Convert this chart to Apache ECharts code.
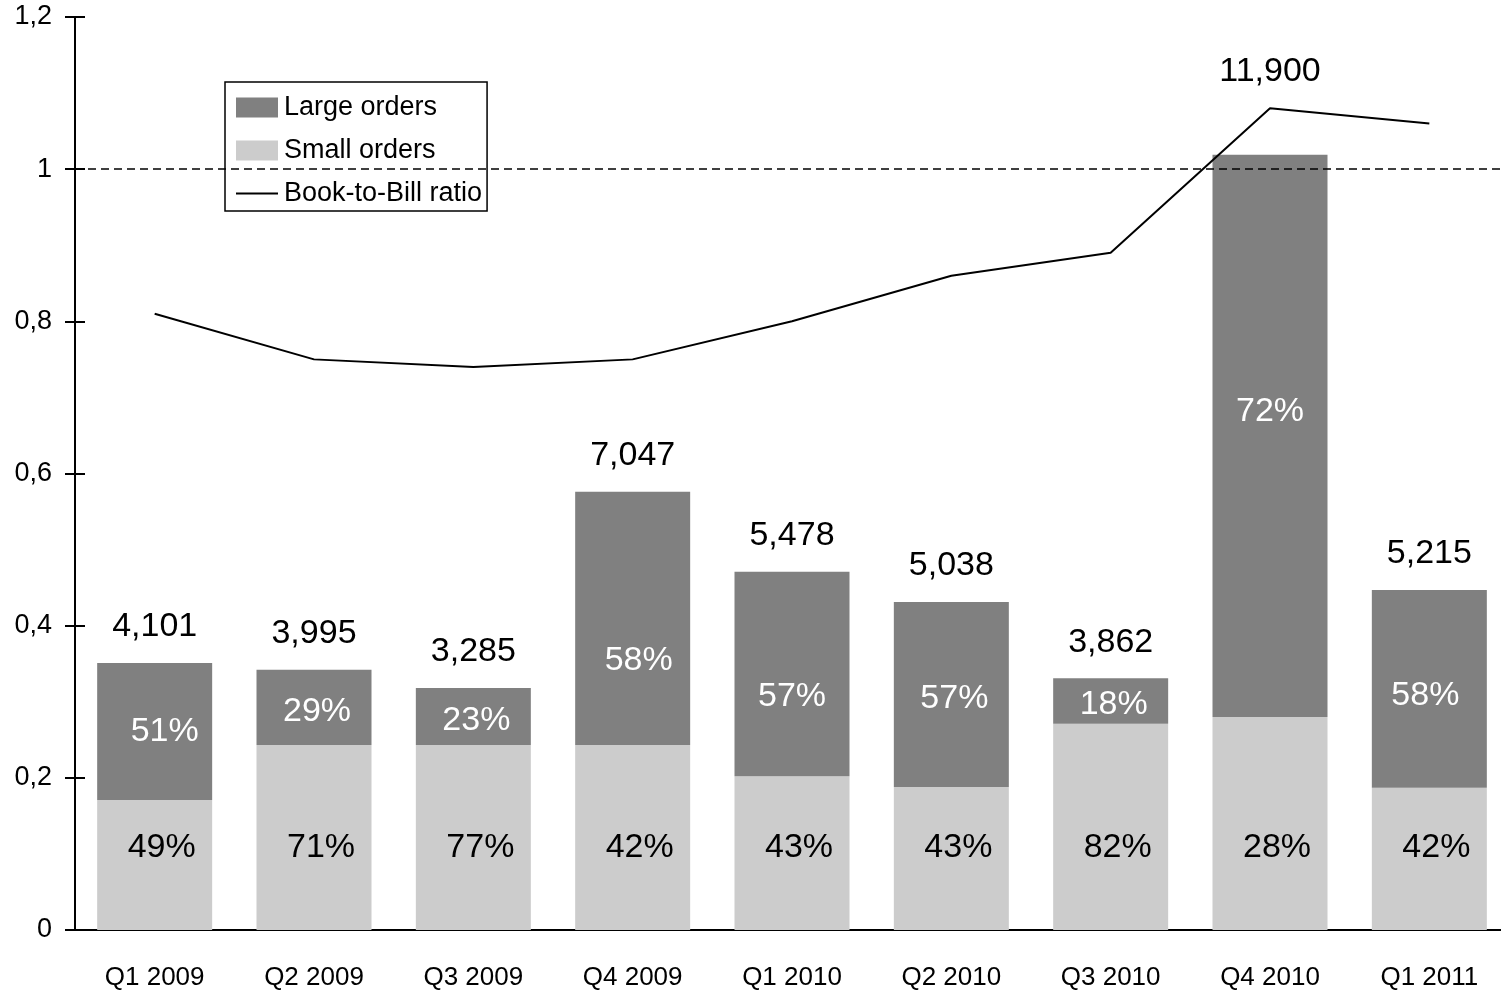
<!DOCTYPE html>
<html>
<head>
<meta charset="utf-8">
<script src="https://cdn.jsdelivr.net/npm/echarts@6/dist/echarts.min.js"></script>
<style>
  html, body { margin: 0; padding: 0; background: #fff; }
  #chart { width: 1501px; height: 992px; }
</style>
</head>
<body>
<div id="chart"></div>
<script>
const quarters = ["Q1 2009", "Q2 2009", "Q3 2009", "Q4 2009", "Q1 2010", "Q2 2010", "Q3 2010", "Q4 2010", "Q1 2011"];
const smallOrders = [0.171, 0.243, 0.243, 0.243, 0.202, 0.188, 0.271, 0.280, 0.187];
const largeOrders = [0.180, 0.099, 0.075, 0.333, 0.269, 0.243, 0.060, 0.739, 0.260];
const bookToBill = [0.81, 0.75, 0.74, 0.75, 0.80, 0.86, 0.89, 1.08, 1.06];
const totalOrders = ["4,101", "3,995", "3,285", "7,047", "5,478", "5,038", "3,862", "11,900", "5,215"];
const largePct = ["51%", "29%", "23%", "58%", "57%", "57%", "18%", "72%", "58%"];
const smallPct = ["49%", "71%", "77%", "42%", "43%", "43%", "82%", "28%", "42%"];

const font = "'Liberation Sans', Arial, sans-serif";
const chart = echarts.init(document.getElementById("chart"));

// a few labels in the original sit off-centre
const largeLabelShift = { 0: [10, 0], 3: [6, 42], 4: [0, 23], 7: [0, -24], 8: [-4, 7] };

const fmtTick = (v) => String(Math.round(v * 10) / 10).replace(".", ",");

const options = {
  animation: false,
  textStyle: { fontFamily: font },
  // plot runs a little past the right edge of the canvas, like the original
  grid: { left: 75, top: 17, width: 1434, bottom: 62, outerBoundsMode: "none" },
  legend: {
    data: [
      { name: "Large orders", icon: "rect" },
      { name: "Small orders", icon: "rect" },
      { name: "Book-to-Bill ratio", itemStyle: { opacity: 0 } },
    ],
    orient: "vertical",
    left: 225,
    top: 82,
    padding: [12, 5, 4, 10],
    itemGap: 16,
    itemWidth: 42,
    itemHeight: 20,
    borderColor: "#000",
    borderWidth: 1.5,
    textStyle: { fontSize: 27, color: "#000", fontFamily: font, padding: [0, 0, 0, 1] },
  },
  xAxis: {
    type: "category",
    data: quarters,
    axisLine: { lineStyle: { color: "#000", width: 2 } },
    axisTick: { length: 10, lineStyle: { color: "#000", width: 2 } },
    axisLabel: { fontSize: 26, color: "#000", margin: 35, fontFamily: font },
    splitLine: { show: false },
  },
  yAxis: [
    {
      type: "value",
      min: 0,
      max: 1.2,
      interval: 0.2,
      axisLine: { show: true, lineStyle: { color: "#000", width: 2 } },
      axisTick: { show: true, length: 10, lineStyle: { color: "#000", width: 2 } },
      axisLabel: { fontSize: 27, color: "#000", margin: 23, formatter: fmtTick, fontFamily: font },
      splitLine: { show: false },
    },
    {
      // inner half of the crossing ticks
      type: "value",
      position: "left",
      min: 0,
      max: 1.2,
      interval: 0.2,
      axisLine: { show: false },
      axisTick: { show: true, inside: true, length: 10, lineStyle: { color: "#000", width: 2 } },
      axisLabel: { show: false },
      splitLine: { show: false },
    },
  ],
  series: [
    {
      name: "Small orders",
      type: "bar",
      stack: "orders",
      barWidth: 115,
      data: smallOrders,
      itemStyle: { color: "#cccccc" },
      label: {
        show: true,
        position: "insideBottom",
        distance: 65,
        offset: [7, 0],
        fontSize: 34,
        color: "#000",
        fontFamily: font,
        formatter: (p) => smallPct[p.dataIndex],
      },
    },
    {
      name: "Large orders",
      type: "bar",
      stack: "orders",
      barWidth: 115,
      data: largeOrders.map((v, i) => ({
        value: v,
        label: { offset: largeLabelShift[i] || [3, 4] },
      })),
      itemStyle: { color: "#808080" },
      label: {
        show: true,
        position: "inside",
        fontSize: 34,
        color: "#fff",
        fontFamily: font,
        formatter: (p) => largePct[p.dataIndex],
      },
    },
    {
      name: "total",
      type: "bar",
      stack: "orders",
      barWidth: 115,
      data: totalOrders.map((t, i) => ({
        value: 0,
        label: i === 7 ? { distance: 66 } : undefined,
      })),
      itemStyle: { color: "transparent" },
      label: {
        show: true,
        position: "top",
        distance: 19,
        fontSize: 34,
        color: "#000",
        fontFamily: font,
        formatter: (p) => totalOrders[p.dataIndex],
      },
    },
    {
      name: "Book-to-Bill ratio",
      type: "line",
      data: bookToBill,
      symbol: "none",
      z: 5,
      lineStyle: { color: "#000", width: 2 },
      itemStyle: { color: "#000" },
      markLine: {
        silent: true,
        symbol: "none",
        label: { show: false },
        lineStyle: { color: "#000", width: 1.5, type: [8, 5] },
        data: [{ yAxis: 1 }],
      },
    },
  ],
};

chart.setOption(options);
window.addEventListener("resize", () => chart.resize());
</script>
</body>
</html>
